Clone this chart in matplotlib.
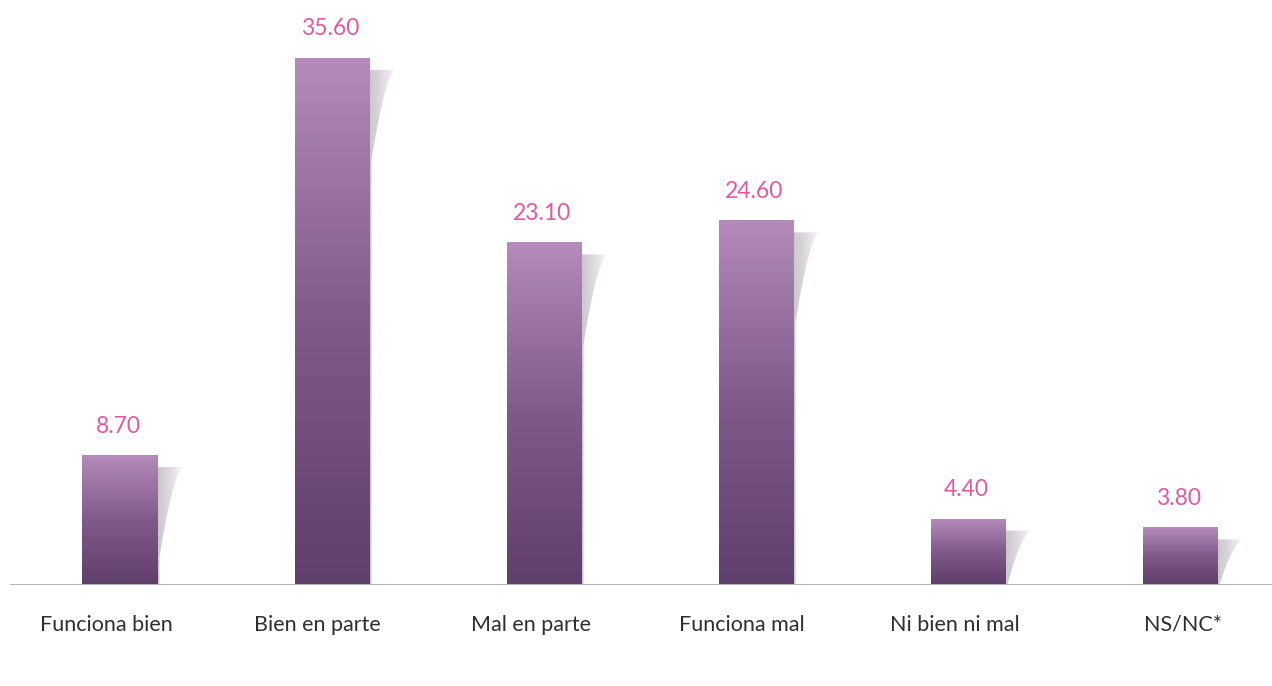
import numpy as np
import matplotlib
matplotlib.use("Agg")
import matplotlib.pyplot as plt
from matplotlib.path import Path
from matplotlib.patches import PathPatch
from matplotlib.colors import LinearSegmentedColormap

categories = ["Funciona bien", "Bien en parte", "Mal en parte", "Funciona mal", "Ni bien ni mal", "NS/NC*"]
values = [8.70, 35.60, 23.10, 24.60, 4.40, 3.80]
value_labels = ["8.70", "35.60", "23.10", "24.60", "4.40", "3.80"]

# horizontal label nudges (pixels) to match the original layout
label_nudge_px = [-14, -15, -13, -14, -13, 3]

plt.rcParams['font.family'] = ['Lato', 'DejaVu Sans']

fig = plt.figure(figsize=(12.72, 6.86), dpi=100)
ax = fig.add_axes([10/1272, 101.5/686, 1262/1272, (584.5-23.5)/686])
ymax = 38.0
xmin, xmax = -110/212, (1272-120)/212
ax.set_xlim(xmin, xmax)
ax.set_ylim(0, ymax)
ax.axis('off')

bar_w = 75/212
grad_cmap = LinearSegmentedColormap.from_list("g", ["#5f3f6b", "#7f5a8a", "#b48bbb"])
shadow_cmap = LinearSegmentedColormap.from_list("s", ["#cdc7ce", "#e0dce1", "#fbfafb"])

px_y = ymax / (584.5 - 23.5)   # data units per pixel (y)
px_x = 1 / 212.0             # data units per pixel (x)
pt_per_px = 72 / 100.0

x = np.arange(len(categories))
for i, v in enumerate(values):
    left = x[i] - bar_w/2
    right = x[i] + bar_w/2
    # shadow
    top_s = v - 11*px_y
    h = top_s
    ext = 26*px_x
    ts = np.linspace(0, 1, 60)
    curve_x = right + 2*px_x + (ext - 2*px_x) * (1 - ts**0.6)
    curve_y = top_s - ts * min(h, 90*px_y)
    verts = [(right, 0), (right, top_s)] + list(zip(curve_x, curve_y)) + [(right + 2*px_x, 0), (right, 0)]
    patch = PathPatch(Path(verts), facecolor='none', edgecolor='none')
    ax.add_patch(patch)
    sg = np.linspace(0, 1, 64).reshape(1, -1)
    im = ax.imshow(sg, cmap=shadow_cmap, aspect='auto',
                   extent=[right, right + ext, 0, top_s], zorder=1, interpolation='bicubic')
    im.set_clip_path(patch)
    # bar gradient
    g = np.linspace(0, 1, 256).reshape(-1, 1)
    ax.imshow(g, cmap=grad_cmap, aspect='auto', origin='lower',
              extent=[left, right, 0, v], zorder=2, interpolation='bicubic')
    ax.annotate(value_labels[i], (x[i], v), xytext=(-1.5*pt_per_px, 21.6), textcoords='offset points',
                ha='center', va='center', fontsize=16.5, color='#df5aa0',
                fontweight='normal', annotation_clip=False)
    ax.annotate(categories[i], (x[i], 0), xytext=(label_nudge_px[i]*pt_per_px, -29),
                textcoords='offset points',
                ha='center', va='center', fontsize=15.5, color='#2e2e2e',
                fontweight='normal', annotation_clip=False)

ax.axhline(0, color='#aaa4b0', lw=1.2, zorder=3)
ax.set_xlim(xmin, xmax)
ax.set_ylim(0, ymax)

fig.savefig("out.png", dpi=100)
